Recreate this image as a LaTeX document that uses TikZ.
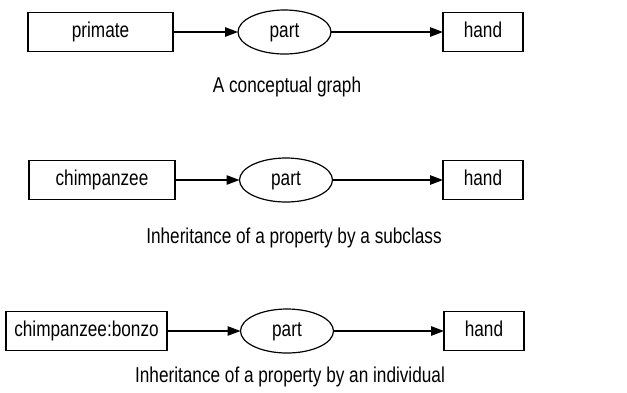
\documentclass[tikz,border=0pt]{standalone}
\usepackage{fontspec}
\setmainfont[FakeStretch=0.8]{Liberation Sans}
\usetikzlibrary{shapes, positioning, arrows.meta}

\begin{document}
\begin{tikzpicture}[
    x=1pt, y=-1pt,
    every node/.style={
        font=\fontsize{21.5}{24}\selectfont,
        text height=15.5pt,
        text depth=4.5pt
    },
    concept/.style={
        rectangle,
        draw=black,
        line width=1.3pt,
        minimum height=39pt,
        inner sep=0pt,
        outer sep=0pt
    },
    relation/.style={
        ellipse,
        draw=black,
        line width=1.2pt,
        minimum width=93pt,
        minimum height=44pt,
        inner sep=0pt,
        outer sep=0pt
    },
    link/.style={
        -{Triangle[length=13pt, width=9.5pt]},
        line width=1.2pt
    }
]
    \useasboundingbox (0,0) rectangle (627,392);

    % A conceptual graph
    \node[concept, minimum width=145pt] (primate) at (100.5,32) {primate};
    \node[relation] (part1) at (284.5,32) {part};
    \node[concept, minimum width=80pt] (hand1) at (483,32) {hand};
    \draw[link] (primate) -- (part1);
    \draw[link] (part1) -- (hand1);
    \node (cap1) at (287,87) {A conceptual graph};

    % Subclass
    \node[concept, minimum width=146pt] (chimp) at (102,180) {chimpanzee};
    \node[relation] (part2) at (286,180) {part};
    \node[concept, minimum width=80pt] (hand2) at (483,180) {hand};
    \draw[link] (chimp) -- (part2);
    \draw[link] (part2) -- (hand2);
    \node (cap2) at (294,238) {Inheritance of a property by a subclass};

    % Individual
    \node[concept, minimum width=161pt] (bonzo) at (86.5,331) {chimpanzee:bonzo};
    \node[relation] (part3) at (287,331) {part};
    \node[concept, minimum width=80pt] (hand3) at (484,331) {hand};
    \draw[link] (bonzo) -- (part3);
    \draw[link] (part3) -- (hand3);
    \node (cap3) at (290,377) {Inheritance of a property by an individual};

\end{tikzpicture}
\end{document}
